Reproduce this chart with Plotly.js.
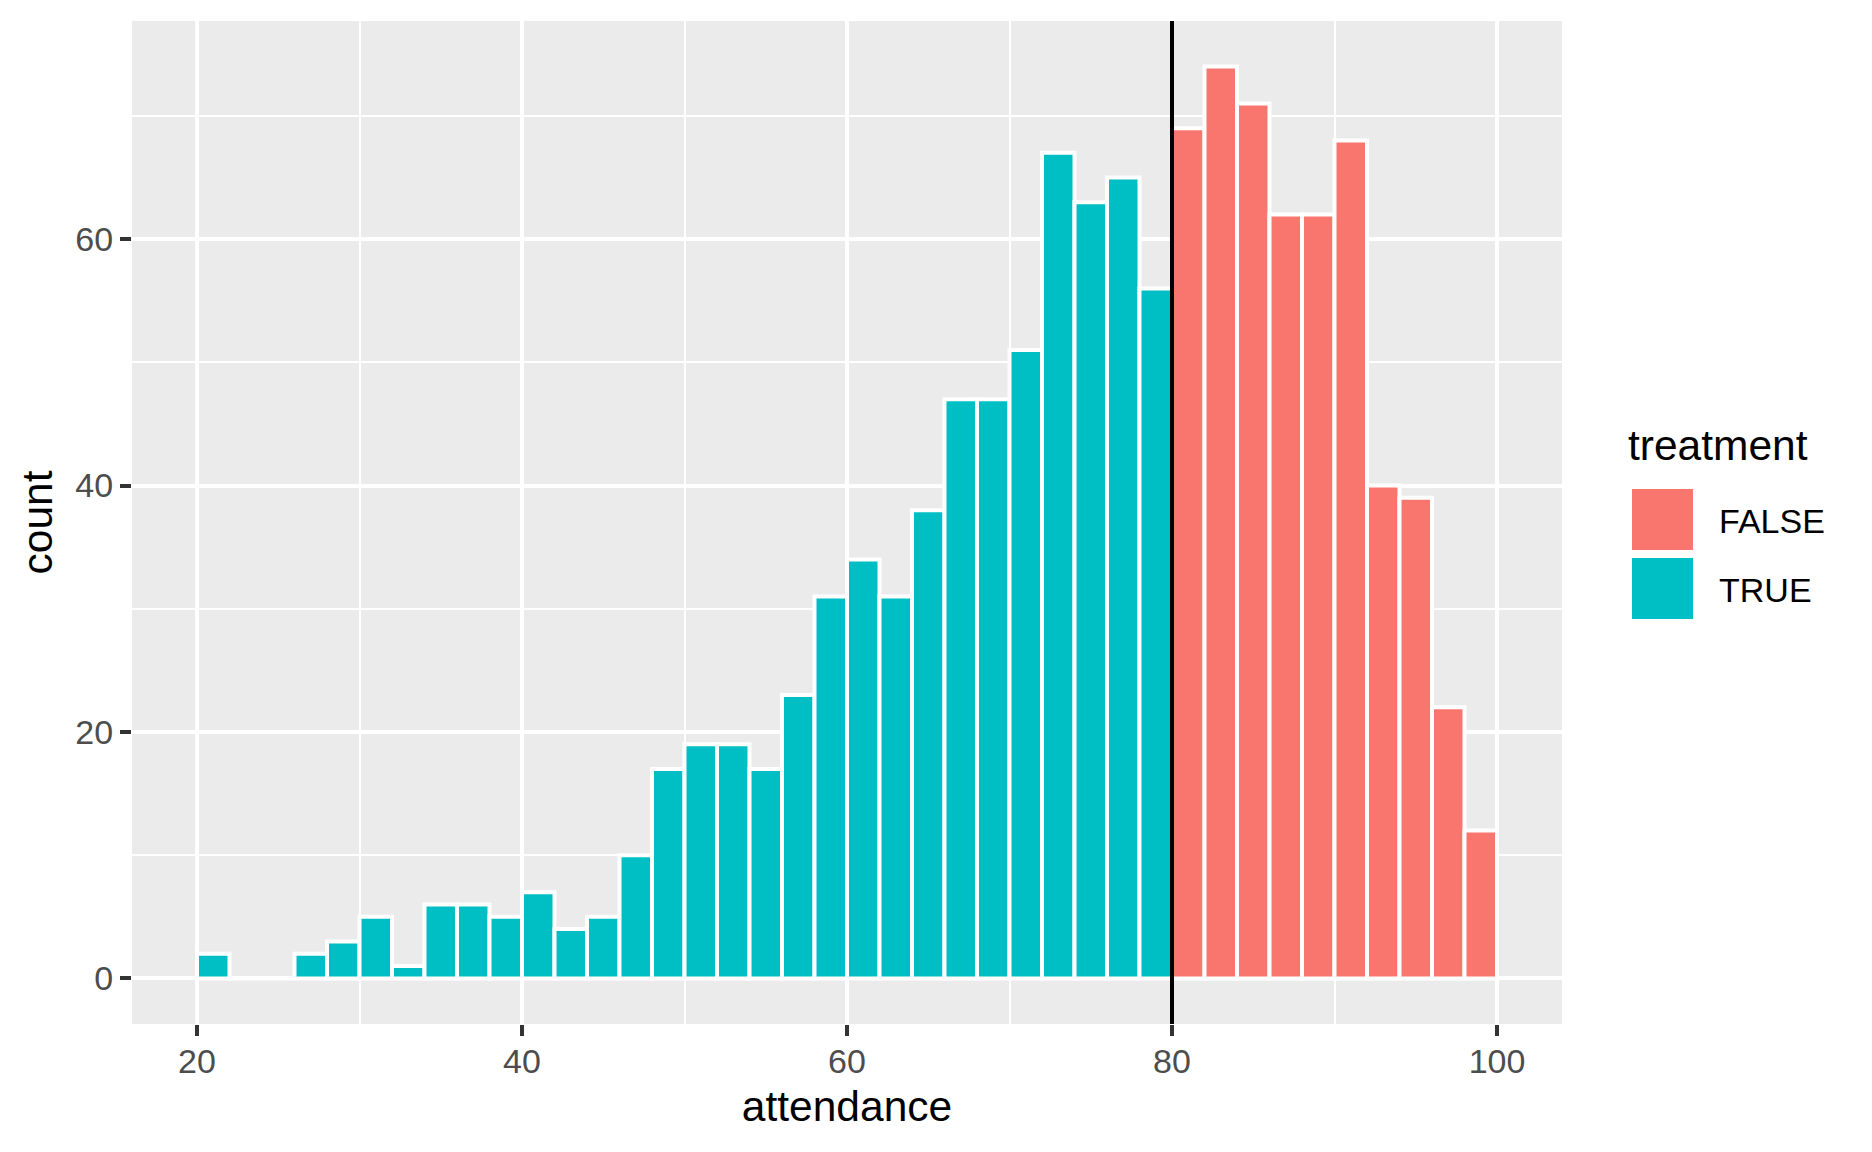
<!DOCTYPE html>
<html>
<head>
<meta charset="utf-8">
<script src="https://cdn.plot.ly/plotly-3.0.1.min.js"></script>
<style>
  html, body { margin: 0; padding: 0; background: #ffffff; }
  #chart { width: 1872px; height: 1152px; }
</style>
</head>
<body>
<div id="chart"></div>
<script>
// ---- data (histogram of attendance, binwidth 2) ----
const trueBinCenters = [21, 23, 25, 27, 29, 31, 33, 35, 37, 39,
                        41, 43, 45, 47, 49, 51, 53, 55, 57, 59,
                        61, 63, 65, 67, 69, 71, 73, 75, 77, 79];
const trueCounts     = [2, 0, 0, 2, 3, 5, 1, 6, 6, 5,
                        7, 4, 5, 10, 17, 19, 19, 17, 23, 31,
                        34, 31, 38, 47, 47, 51, 67, 63, 65, 56];
const falseBinCenters = [81, 83, 85, 87, 89, 91, 93, 95, 97, 99];
const falseCounts     = [69, 74, 71, 62, 62, 68, 40, 39, 22, 12];
const binWidth = 2;
const cutoff = 80;
const legendTitle = "treatment";
const legendLabels = ["FALSE", "TRUE"];
const xTitle = "attendance";
const yTitle = "count";

// ---- styles ----
const COL_FALSE = "#F8766D";
const COL_TRUE = "#00BFC4";
const FONT = "Liberation Sans, Arial, Helvetica, sans-serif";

// plot box in pixels
const L = 132, R = 1562, T = 21, B = 1024;
const px2x = p => (p - L) / (R - L);
const px2y = p => (B - p) / (B - T);

const traces = [
  {
    type: "bar",
    name: "TRUE",
    x: trueBinCenters,
    y: trueCounts,
    width: trueBinCenters.map(() => binWidth),
    marker: { color: COL_TRUE, line: { color: "#ffffff", width: 4 } },
    showlegend: false,
    hoverinfo: "x+y"
  },
  {
    type: "bar",
    name: "FALSE",
    x: falseBinCenters,
    y: falseCounts,
    width: falseBinCenters.map(() => binWidth),
    marker: { color: COL_FALSE, line: { color: "#ffffff", width: 4 } },
    showlegend: false,
    hoverinfo: "x+y"
  }
];

// custom ggplot-style legend
const keyX0 = 1628, keyX1 = 1697;
const keyRows = [[485, 554], [554, 623]];
const keyCols = [COL_FALSE, COL_TRUE];
const shapes = [
  {
    type: "line", xref: "x", yref: "paper",
    x0: cutoff, x1: cutoff, y0: 0, y1: 1,
    line: { color: "#000000", width: 4 }, layer: "above"
  }
];
keyRows.forEach((r, i) => {
  shapes.push({
    type: "rect", xref: "paper", yref: "paper",
    x0: px2x(keyX0), x1: px2x(keyX1), y0: px2y(r[1]), y1: px2y(r[0]),
    fillcolor: "#F2F2F2", line: { width: 0 }
  });
  shapes.push({
    type: "rect", xref: "paper", yref: "paper",
    x0: px2x(keyX0 + 2), x1: px2x(keyX1 - 2), y0: px2y(r[1] - 2), y1: px2y(r[0] + 2),
    fillcolor: keyCols[i], line: { color: "#ffffff", width: 4 }
  });
});

const annotations = [
  {
    text: legendTitle, xref: "paper", yref: "paper",
    x: px2x(1626), y: px2y(445), xanchor: "left", yanchor: "middle",
    showarrow: false, font: { family: FONT, size: 42.5, color: "#000000" }
  }
];
legendLabels.forEach((lab, i) => {
  const mid = (keyRows[i][0] + keyRows[i][1]) / 2 + 1.5;
  annotations.push({
    text: lab, xref: "paper", yref: "paper",
    x: px2x(1717), y: px2y(mid), xanchor: "left", yanchor: "middle",
    showarrow: false, font: { family: FONT, size: 34, color: "#000000" }
  });
});

const layout = {
  width: 1872,
  height: 1152,
  margin: { l: L, r: 1872 - R, t: T, b: 1152 - B, pad: 0 },
  paper_bgcolor: "#ffffff",
  plot_bgcolor: "#EBEBEB",
  barmode: "overlay",
  bargap: 0,
  showlegend: false,
  font: { family: FONT, color: "#000000" },
  xaxis: {
    range: [16, 104],
    tickmode: "linear", tick0: 0, dtick: 20,
    ticks: "outside", ticklen: 11, tickwidth: 4, tickcolor: "#333333",
    ticklabelstandoff: -4,
    tickfont: { family: FONT, size: 34, color: "#4D4D4D" },
    showgrid: true, gridcolor: "#ffffff", gridwidth: 4,
    minor: { dtick: 10, tick0: 0, showgrid: true, gridcolor: "#ffffff", gridwidth: 2 },
    zeroline: false, showline: false,
    title: { text: xTitle, font: { family: FONT, size: 42.5, color: "#000000" }, standoff: 12 },
    automargin: false
  },
  yaxis: {
    range: [-3.7, 77.7],
    tickmode: "linear", tick0: 0, dtick: 20,
    ticks: "outside", ticklen: 11, tickwidth: 4, tickcolor: "#333333",
    tickfont: { family: FONT, size: 34, color: "#4D4D4D" },
    showgrid: true, gridcolor: "#ffffff", gridwidth: 4,
    minor: { dtick: 10, tick0: 0, showgrid: true, gridcolor: "#ffffff", gridwidth: 2 },
    zeroline: false, showline: false,
    title: { text: yTitle, font: { family: FONT, size: 42.5, color: "#000000" }, standoff: 9 },
    automargin: false
  },
  shapes: shapes,
  annotations: annotations
};

Plotly.newPlot("chart", traces, layout, { displayModeBar: false, staticPlot: true });
</script>
</body>
</html>
